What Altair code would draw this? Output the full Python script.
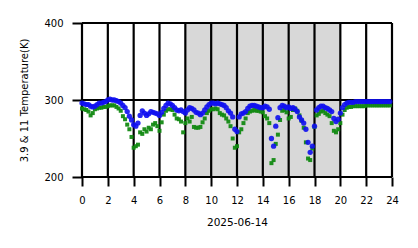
import altair as alt
import pandas as pd

# 10-minute samples, hours 0..24
blue_11 = [
    296, 295, 294, 294, 292, 291,
    292, 294, 296, 296, 297, 298,
    300, 301, 300, 300, 299, 298,
    296, 293, 290, 285, 279, 274,
    268, 266, 270, 280, 286, 283,
    280, 282, 285, 284, 283, 282,
    280, 284, 289, 293, 296, 295,
    293, 290, 287, 286, 287, 285,
    283, 287, 290, 289, 287, 284,
    283, 281, 283, 287, 291, 294,
    296, 296, 295, 296, 295, 294,
    293, 290, 286, 283, 278, 262,
    259, 278, 282, 283, 285, 289,
    292, 293, 293, 292, 291, 290,
    290, 292, 291, 288, 250, 240,
    266, 277, 290, 293, 292, 290,
    291, 289, 290, 288, 285, 278,
    274, 270, 262, 245, 232, 240,
    266, 287, 290, 292, 292, 290,
    289, 287, 285, 276, 272, 275,
    283, 290, 294, 296, 297, 297,
    297, 298, 298, 298, 298, 298,
    298, 298, 298, 298, 298, 298,
    298, 298, 298, 298, 298, 298,
]
green_39 = [
    289, 288, 287, 285, 280, 283,
    288, 289, 290, 290, 291, 291,
    292, 293, 293, 293, 291, 289,
    286, 279, 275, 268, 262, 252,
    238, 240, 242, 258, 256, 262,
    259, 264, 262, 268, 270, 266,
    260, 271, 281, 286, 288, 288,
    287, 281, 276, 275, 272, 258,
    270, 276, 272, 278, 265, 264,
    264, 265, 271, 276, 283, 286,
    288, 288, 289, 288, 283, 281,
    280, 276, 272, 266, 250, 238,
    240, 258, 262, 270, 276, 283,
    285, 286, 287, 286, 286, 285,
    284, 279, 276, 270, 218, 222,
    243, 255, 274, 286, 287, 284,
    276, 278, 287, 289, 286, 280,
    273, 264, 245, 224, 222, 237,
    265, 280, 282, 285, 286, 283,
    281, 279, 270, 260, 258, 262,
    270, 281, 287, 290, 291, 291,
    292, 292, 292, 292, 292, 292,
    293, 293, 293, 293, 293, 293,
    293, 293, 293, 293, 293, 293,
]
hours = [i / 6 for i in range(len(blue_11))]
night_start, night_end = 8, 20
x_ticks = list(range(0, 25, 2))
y_ticks = [200, 300, 400]

df_b = pd.DataFrame({"h": hours, "t": blue_11})
df_g = pd.DataFrame({"h": hours, "t": green_39})
df_s = pd.DataFrame({"a": [night_start], "b": [night_end]})
df_vx = pd.DataFrame({"h": x_ticks})
df_hy = pd.DataFrame({"t": y_ticks})

xs = alt.Scale(domain=[0, 24], nice=False, zero=False)
ys = alt.Scale(domain=[200, 400], nice=False, zero=False)

xax = alt.Axis(values=x_ticks, title="2025-06-14", grid=False, domain=False,
               tickColor="black", tickWidth=2, tickSize=9, labelFontSize=10,
               labelColor="black", labelFont="DejaVu Sans", labelPadding=9,
               labelOverlap=False, labelFlush=False, titleFont="DejaVu Sans",
               titleFontSize=10.5, titleFontWeight="normal", titleColor="black",
               titlePadding=12)
yax = alt.Axis(values=y_ticks, title="3.9 & 11 Temperature(K)", grid=False,
               domain=False, tickColor="black", tickWidth=2, tickSize=10,
               labelFontSize=10, labelColor="black", labelFont="DejaVu Sans",
               labelPadding=9, labelOverlap=False, labelFlush=False,
               titleFont="DejaVu Sans", titleFontSize=10,
               titleFontWeight="normal", titleColor="black", titlePadding=14)

shade = alt.Chart(df_s).mark_rect(color="#d8d8d8").encode(
    x=alt.X("a:Q", scale=xs, axis=xax),
    x2="b:Q",
    y=alt.value(0),
    y2=alt.value(154),
)
vlines = alt.Chart(df_vx).mark_rule(color="black", strokeWidth=2.2).encode(
    x=alt.X("h:Q", scale=xs, axis=xax),
)
hlines = alt.Chart(df_hy).mark_rule(color="black", strokeWidth=2.2).encode(
    y=alt.Y("t:Q", scale=ys, axis=yax),
)
grn = alt.Chart(df_g).mark_square(size=16, color="#138a13", opacity=0.95).encode(
    x=alt.X("h:Q", scale=xs, axis=xax),
    y=alt.Y("t:Q", scale=ys, axis=yax),
)
blu = alt.Chart(df_b).mark_circle(size=28, color="#1010f0", opacity=0.9).encode(
    x=alt.X("h:Q", scale=xs, axis=xax),
    y=alt.Y("t:Q", scale=ys, axis=yax),
)

chart = alt.layer(shade, vlines, hlines, grn, blu).properties(
    width=310, height=154,
    autosize=alt.AutoSizeParams(type="none"),
    padding={"left": 82, "top": 23, "right": 26, "bottom": 71},
    background="white",
).configure_view(stroke=None)

chart.save("out.html", embed_options={"renderer": "svg", "actions": False})
